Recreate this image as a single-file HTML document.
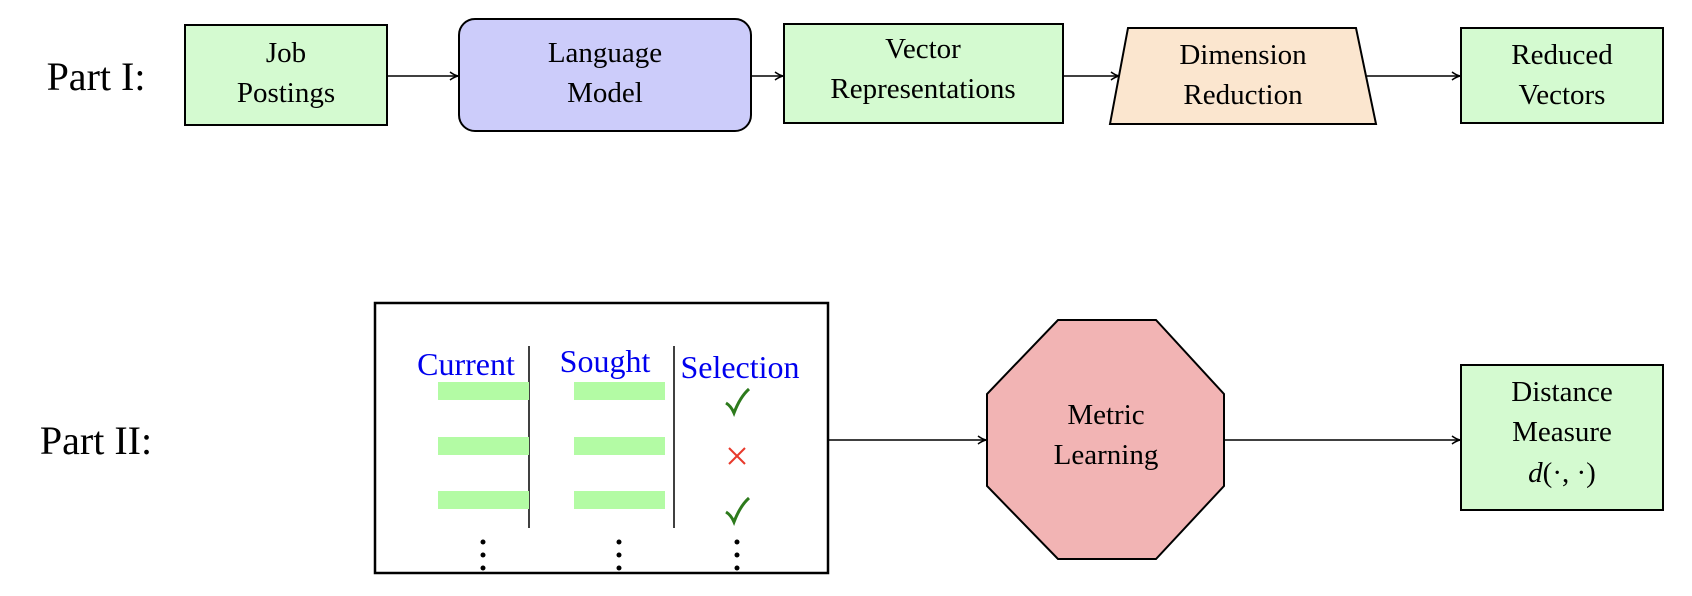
<!DOCTYPE html>
<html><head><meta charset="utf-8"><style>
html,body{margin:0;padding:0;background:#fff;}
body{width:1692px;height:596px;position:relative;overflow:hidden;font-family:"Liberation Serif","DejaVu Serif",serif;}
svg{position:absolute;left:0;top:0;}
text{font-family:"Liberation Serif","DejaVu Serif",serif;}
</style></head><body>
<svg width="1692" height="596" viewBox="0 0 1692 596">
<defs><marker id="a" markerWidth="10" markerHeight="10" refX="9" refY="5" orient="auto" markerUnits="userSpaceOnUse"><path d="M1,1 Q5,4 9,5 Q5,6 1,9" fill="none" stroke="#000" stroke-width="1.5"/></marker></defs>
<g font-size="29" text-anchor="middle" fill="#000">
<text x="96" y="90" font-size="40">Part I:</text>
<rect x="185" y="25" width="202" height="100" fill="#d4fad0" stroke="#000" stroke-width="2"/>
<text x="286" y="62">Job</text><text x="286" y="102">Postings</text>
<rect x="459" y="19" width="292" height="112" rx="16" fill="#ccccfa" stroke="#000" stroke-width="2"/>
<text x="605" y="62">Language</text><text x="605" y="102">Model</text>
<rect x="784" y="24" width="279" height="99" fill="#d4fad0" stroke="#000" stroke-width="2"/>
<text x="923" y="58">Vector</text><text x="923" y="98">Representations</text>
<polygon points="1128,28 1356,28 1376,124 1110,124" fill="#fbe6cf" stroke="#000" stroke-width="2"/>
<text x="1243" y="64">Dimension</text><text x="1243" y="104">Reduction</text>
<rect x="1461" y="28" width="202" height="95" fill="#d4fad0" stroke="#000" stroke-width="2"/>
<text x="1562" y="64">Reduced</text><text x="1562" y="104">Vectors</text>
<g stroke="#000" stroke-width="1.5" marker-end="url(#a)">
<line x1="387" y1="76" x2="458" y2="76"/><line x1="751" y1="76" x2="783" y2="76"/>
<line x1="1063" y1="76" x2="1119" y2="76"/><line x1="1367" y1="76" x2="1460" y2="76"/>
<line x1="829" y1="440" x2="986" y2="440"/><line x1="1224" y1="440" x2="1460" y2="440"/>
</g>
<text x="96" y="454" font-size="40">Part II:</text>
<rect x="375" y="303" width="453" height="270" fill="#fff" stroke="#000" stroke-width="2.5"/>
<g fill="#0000ee" font-size="32"><text x="466" y="375">Current</text><text x="605" y="372">Sought</text><text x="740" y="378">Selection</text></g>
<g stroke="#000" stroke-width="1.5"><line x1="529" y1="346" x2="529" y2="528"/><line x1="674" y1="346" x2="674" y2="528"/></g>
<g fill="#b3fba4"><rect x="438" y="382" width="91" height="18"/><rect x="574" y="382" width="91" height="18"/>
<rect x="438" y="437" width="91" height="18"/><rect x="574" y="437" width="91" height="18"/>
<rect x="438" y="491" width="91" height="18"/><rect x="574" y="491" width="91" height="18"/></g>
<g fill="none" stroke="#2d7a1c" stroke-width="3"><path d="M726,403 Q731,406 734,413 Q740,397 749,389"/><path d="M726,512 Q731,515 734,522 Q740,506 749,498"/></g>
<g stroke="#e8392b" stroke-width="2"><line x1="729" y1="448" x2="745" y2="464"/><line x1="745" y1="448" x2="729" y2="464"/></g>
<g fill="#000"><circle cx="483" cy="542" r="2.5"/><circle cx="483" cy="555" r="2.5"/><circle cx="483" cy="568" r="2.5"/>
<circle cx="619" cy="542" r="2.5"/><circle cx="619" cy="555" r="2.5"/><circle cx="619" cy="568" r="2.5"/>
<circle cx="737" cy="542" r="2.5"/><circle cx="737" cy="555" r="2.5"/><circle cx="737" cy="568" r="2.5"/></g>
<polygon points="1058,320 1156,320 1224,394 1224,486 1156,559 1058,559 987,486 987,394" fill="#f2b4b4" stroke="#000" stroke-width="2"/>
<text x="1106" y="424">Metric</text><text x="1106" y="464">Learning</text>
<rect x="1461" y="365" width="202" height="145" fill="#d4fad0" stroke="#000" stroke-width="2"/>
<text x="1562" y="401">Distance</text><text x="1562" y="441">Measure</text><text x="1562" y="482"><tspan font-style="italic">d</tspan>(·, ·)</text>
</g>
</svg>
</body></html>
